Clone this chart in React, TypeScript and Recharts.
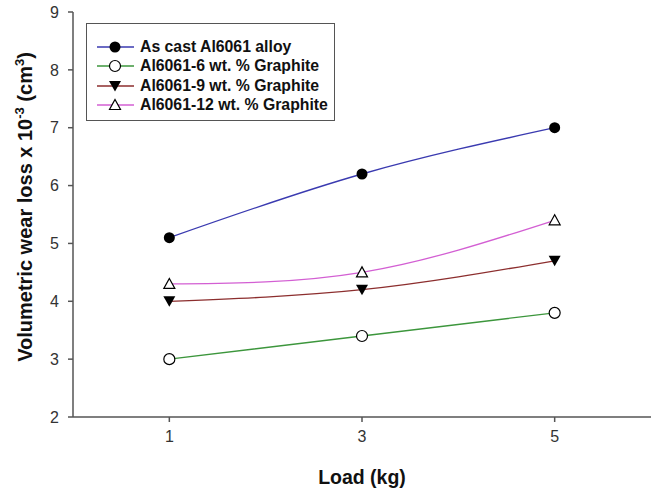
import React from "react";
import { LineChart, Line, XAxis, YAxis } from "recharts";

const loads = [1, 3, 5];
const asCast = [5.1, 6.2, 7.0];
const graphite6 = [3.0, 3.4, 3.8];
const graphite9 = [4.0, 4.2, 4.7];
const graphite12 = [4.3, 4.5, 5.4];
const xTicks = [1, 3, 5];
const yTicks = [2, 3, 4, 5, 6, 7, 8, 9];

const data = loads.map((load, i) => ({
  load,
  asCast: asCast[i],
  g6: graphite6[i],
  g9: graphite9[i],
  g12: graphite12[i],
}));

const FONT = "'Liberation Sans', Arial, sans-serif";
const AXIS = "#555";

type Shape = "filledCircle" | "openCircle" | "downTri" | "upTri";

function Marker({ shape, cx, cy }: { shape: Shape; cx: number; cy: number }) {
  if (shape === "filledCircle") return <circle cx={cx} cy={cy} r={5.5} fill="#000" />;
  if (shape === "openCircle")
    return <circle cx={cx} cy={cy} r={5.5} fill="#fff" stroke="#000" strokeWidth={1.2} />;
  if (shape === "downTri")
    return <path d={`M${cx - 6},${cy - 5} L${cx + 6},${cy - 5} L${cx},${cy + 5.5} Z`} fill="#000" />;
  return (
    <path
      d={`M${cx - 5.5},${cy + 4.5} L${cx + 5.5},${cy + 4.5} L${cx},${cy - 5.5} Z`}
      fill="#fff"
      stroke="#000"
      strokeWidth={1.2}
    />
  );
}

const series: { key: string; name: string; color: string; shape: Shape }[] = [
  { key: "asCast", name: "As cast Al6061 alloy", color: "#3a3ab0", shape: "filledCircle" },
  { key: "g6", name: "Al6061-6 wt. % Graphite", color: "#3c963c", shape: "openCircle" },
  { key: "g9", name: "Al6061-9 wt. % Graphite", color: "#8c2e2e", shape: "downTri" },
  { key: "g12", name: "Al6061-12 wt. % Graphite", color: "#d35fd3", shape: "upTri" },
];

const dotFor = (shape: Shape) => (props: any) =>
  <Marker key={`${shape}-${props.index}`} shape={shape} cx={props.cx} cy={props.cy} />;

function YLabel() {
  return (
    <text
      transform="translate(32,207) rotate(-90)"
      textAnchor="middle"
      fontFamily={FONT}
      fontWeight="bold"
      fontSize={20}
      fill="#111"
    >
      Volumetric wear loss x 10
      <tspan fontSize={13} dy={-8}>-3</tspan>
      <tspan dy={8}> (cm</tspan>
      <tspan fontSize={13} dy={-8}>3</tspan>
      <tspan dy={8}>)</tspan>
    </text>
  );
}

function Legend() {
  return (
    <div
      style={{
        position: "absolute",
        left: 86,
        top: 23,
        width: 249,
        height: 98,
        border: "1.5px solid #555",
        boxSizing: "border-box",
        paddingTop: 13,
        fontFamily: FONT,
        fontWeight: "bold",
        fontSize: 15.8,
        color: "#111",
      }}
    >
      {series.map((s) => (
        <div key={s.key} style={{ display: "flex", alignItems: "center", height: 19.5, whiteSpace: "nowrap" }}>
          <svg width={44} height={14} style={{ marginLeft: 9 }}>
            <line x1={1} x2={38} y1={7} y2={7} stroke={s.color} strokeWidth={1.3} />
            <Marker shape={s.shape} cx={19} cy={7} />
          </svg>
          <span>{s.name}</span>
        </div>
      ))}
    </div>
  );
}

export default function App() {
  return (
    <div style={{ position: "absolute", left: 0, top: 0, width: 652, height: 489, background: "#fff" }}>
      <LineChart
        width={652}
        height={489}
        data={data}
        margin={{ top: 12, right: 1, left: 0, bottom: 0 }}
      >
        <XAxis
          dataKey="load"
          type="number"
          domain={[0, 6]}
          ticks={xTicks}
          height={72}
          stroke={AXIS}
          strokeWidth={1.5}
          tickSize={5}
          tick={{ fill: "#333", fontSize: 16, fontFamily: FONT }}
          tickMargin={9}
          label={{
            value: "Load (kg)",
            position: "insideBottom",
            offset: 5,
            fontFamily: FONT,
            fontWeight: "bold",
            fontSize: 19.5,
            fill: "#111",
          }}
        />
        <XAxis xAxisId="top" orientation="top" type="number" domain={[0, 6]} tick={false} tickLine={false} height={0} stroke={AXIS} strokeWidth={1.5} />
        <YAxis
          type="number"
          domain={[2, 9]}
          ticks={yTicks}
          width={73}
          stroke={AXIS}
          strokeWidth={1.5}
          tickSize={5}
          tick={{ fill: "#333", fontSize: 16, fontFamily: FONT }}
          tickMargin={9}
          label={<YLabel />}
        />
        <YAxis yAxisId="right" orientation="right" type="number" domain={[2, 9]} tick={false} tickLine={false} width={0} stroke={AXIS} strokeWidth={1.5} />
        {series.map((s) => (
          <Line
            key={s.key}
            type="natural"
            dataKey={s.key}
            name={s.name}
            stroke={s.color}
            strokeWidth={1.3}
            dot={dotFor(s.shape)}
            activeDot={false}
            isAnimationActive={false}
          />
        ))}
      </LineChart>
      <Legend />
    </div>
  );
}
